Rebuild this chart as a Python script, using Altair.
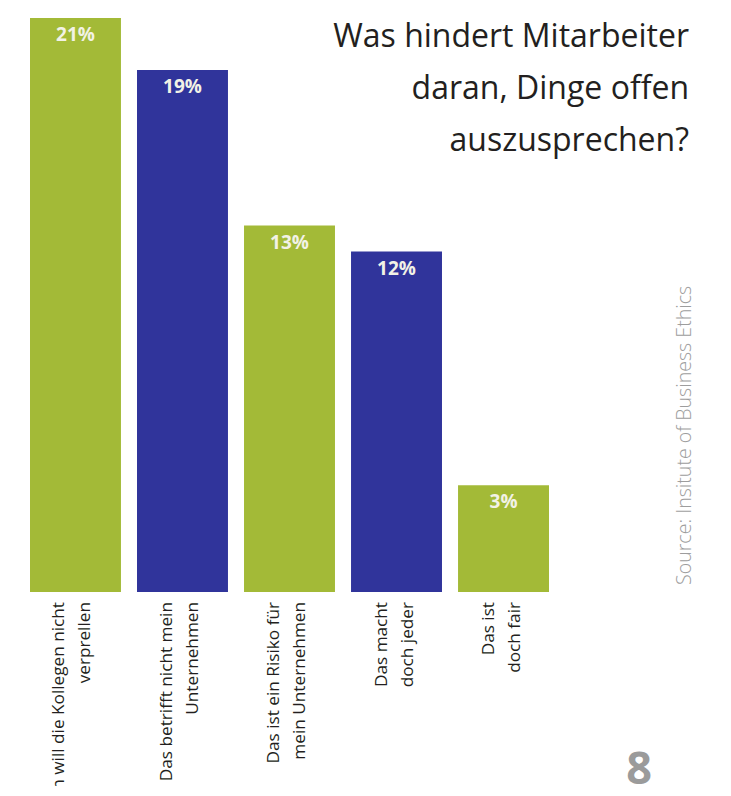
import altair as alt
import pandas as pd

categories = [
    "Ich will die Kollegen nicht\nverprellen",
    "Das betrifft nicht mein\nUnternehmen",
    "Das ist ein Risiko für\nmein Unternehmen",
    "Das macht\ndoch jeder",
    "Das ist\ndoch fair",
]
values = [21, 19, 13, 12, 3]
bar_colors = ["#A3BA37", "#30349B", "#A3BA37", "#30349B", "#A3BA37"]
title_text = "Was hindert Mitarbeiter\ndaran, Dinge offen\nauszusprechen?"
source_text = "Source: Insitute of Business Ethics"
page_number = "8"

FONT = "Open Sans"

df = pd.DataFrame({"category": categories, "value": values})
df["pct"] = [f"{v}%" for v in values]

x_band = alt.Scale(domain=categories, range=[22, 541], paddingInner=0.15, paddingOuter=0)
y_scale = alt.Scale(domain=[0, 21], range=[555, 10], nice=False)

base = alt.Chart(df)

bars = base.mark_bar().encode(
    x=alt.X("category:N", scale=x_band, axis=None, sort=None),
    y=alt.Y("value:Q", scale=y_scale, axis=None, stack=None),
    y2=alt.value(584),
    color=alt.Color("category:N", scale=alt.Scale(domain=categories, range=bar_colors), legend=None),
)

pct = base.mark_text(
    baseline="top", dy=8, fontSize=19, fontWeight="bold", font=FONT, color="#F2F2E6"
).encode(
    x=alt.X("category:N", scale=x_band, axis=None, sort=None),
    y=alt.Y("value:Q", scale=y_scale, axis=None, stack=None),
    text="pct:N",
)

bar_layer = alt.layer(bars, pct)

labels = base.mark_text(
    angle=270, align="right", baseline="middle", lineBreak="\n",
    fontSize=17.2, lineHeight=26, font=FONT, color="#231F20",
).encode(
    x=alt.X("category:N", scale=alt.Scale(type="point", domain=categories, range=[51, 481], padding=0), axis=None),
    y=alt.value(594),
    text="category:N",
)

title = alt.Chart(pd.DataFrame({"t": [title_text]})).mark_text(
    align="right", baseline="alphabetic", lineBreak="\n",
    fontSize=32, lineHeight=52, font=FONT, color="#231F20",
).encode(x=alt.value(681), y=alt.value(39), text="t:N")

source = alt.Chart(pd.DataFrame({"t": [source_text]})).mark_text(
    angle=270, align="left", baseline="middle",
    fontSize=19.6, fontWeight=300, font=FONT, color="#9D9D9D",
).encode(x=alt.value(677), y=alt.value(577), text="t:N")

page = alt.Chart(pd.DataFrame({"t": [page_number]})).mark_text(
    align="center", baseline="alphabetic",
    fontSize=45, fontWeight="bold", font=FONT, color="#9B9B9B",
).encode(x=alt.value(631), y=alt.value(776), text="t:N")

chart = alt.layer(bar_layer, labels, title, source, page).resolve_scale(x="independent").properties(
    width=715, height=778, padding=0, autosize=alt.AutoSizeParams(type="none"), background="white"
).configure_view(stroke=None)

chart.save("out.html", embed_options={"renderer": "svg", "actions": False})
